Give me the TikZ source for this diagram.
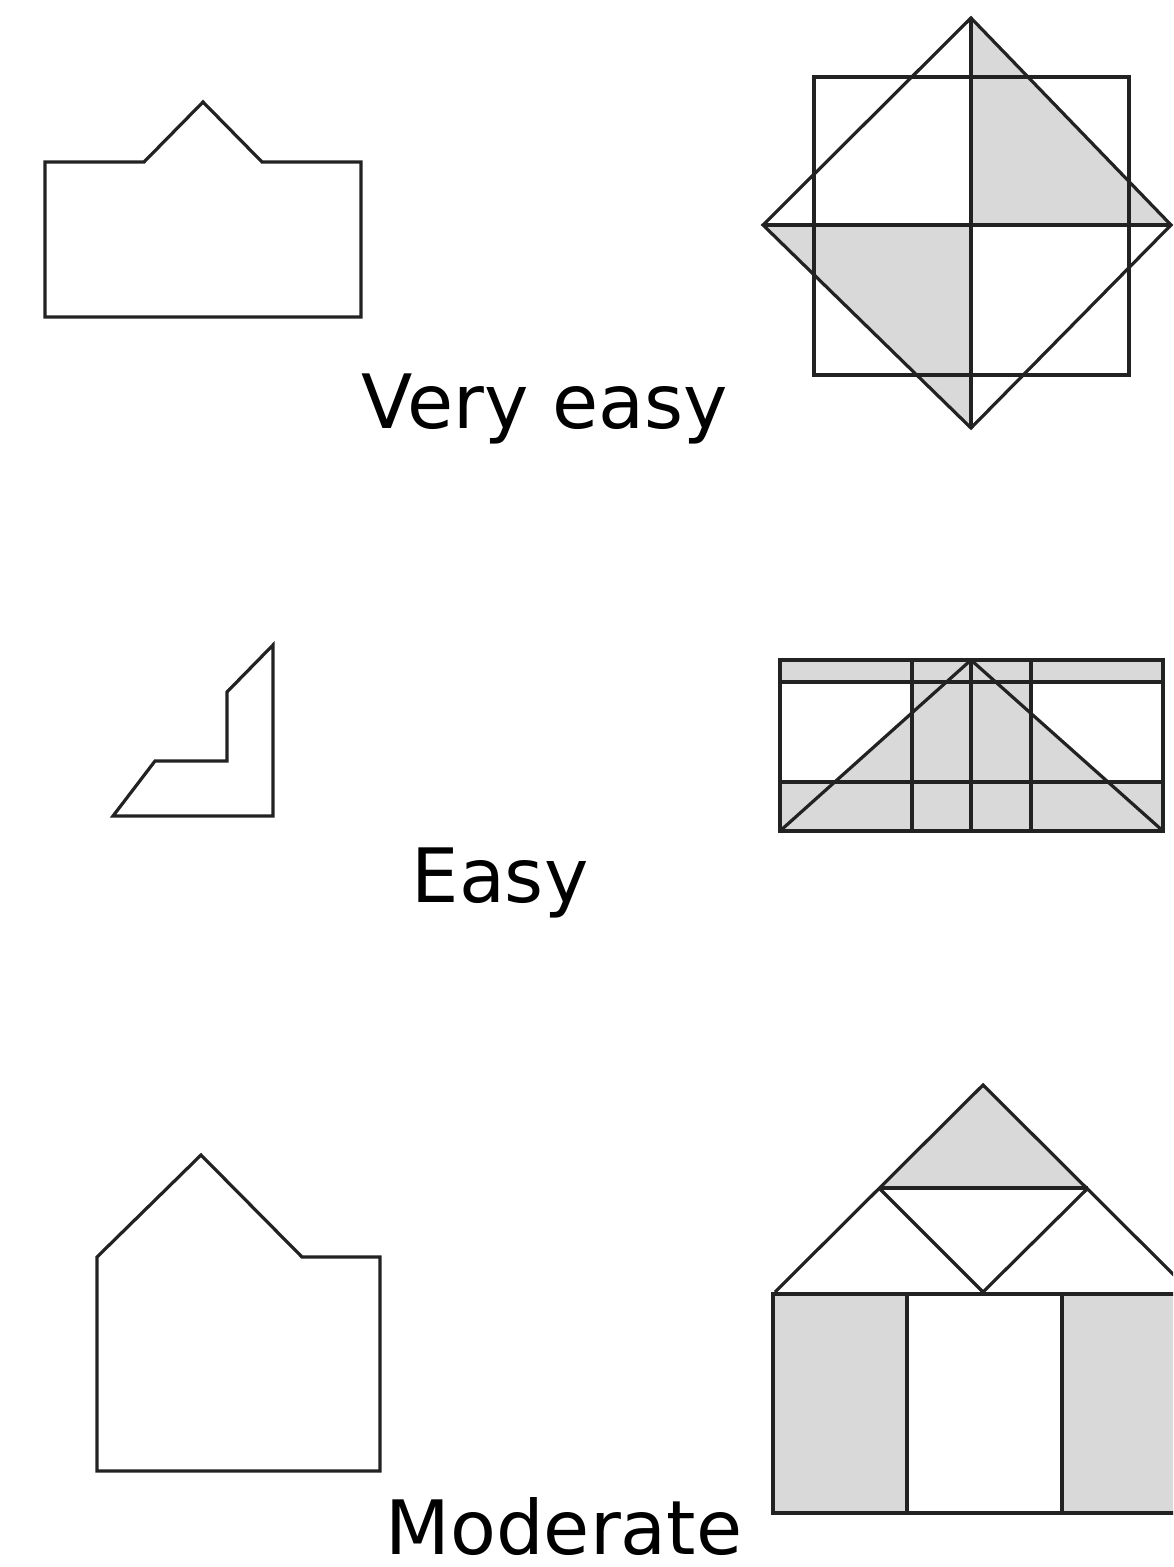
\documentclass[tikz,border=0pt]{standalone}
\usepackage{fontspec}
\setmainfont{DejaVu Sans}
\usepackage{tikz}
\definecolor{boxgrey}{HTML}{D9D9D9}
\definecolor{ink}{HTML}{222222}
\tikzset{fig/.style={line width=1.6pt,draw=ink,line join=miter},
  lbl/.style={anchor=base,inner sep=0pt,font=\fontsize{37.5}{45}\selectfont}}

\begin{document}
\begin{tikzpicture}[x=0.5pt,y=-0.5pt]
    \clip (0,0) rectangle (1173,1567);
    \draw[fig] (45,162) -- (144,162) -- (203,102) -- (262,162) -- (361,162)
        -- (361,317) -- (45,317) -- cycle;
    \fill[boxgrey] (971,18) -- (971,225) -- (1171,225) -- cycle;
    \fill[boxgrey] (763,225) -- (971,225) -- (971,428) -- cycle;
    \draw[fig] (814,77) rectangle (1129,375);
    \draw[fig] (971,18) -- (1171,225) -- (971,428) -- (763,225) -- cycle;
    \draw[fig] (763,225) -- (1171,225) (971,18) -- (971,428);
    \node[lbl] (veryeasy) at (545,428) {Very easy};

    \draw[fig] (273,645) -- (273,816) -- (113,816) -- (155,761) -- (227,761)
        -- (227,692) -- cycle;
    \fill[boxgrey] (780,660) rectangle (1163,831);
    \fill[white] (780,682) rectangle (1163,782);
    \fill[boxgrey] (971,660) -- (1163,831) -- (780,831) -- cycle;
    \fill[boxgrey] (912,660) rectangle (1031,831);
    \draw[fig] (780,660) rectangle (1163,831);
    \draw[fig] (780,682) -- (1163,682) (780,782) -- (1163,782);
    \foreach \x in {912,971,1031}
        \draw[fig] (\x,660) -- (\x,831);
    \draw[fig] (780,831) -- (971,660) -- (1163,831);
    \node[lbl] (easy) at (500,902) {Easy};

    \draw[fig] (97,1257) -- (201,1155) -- (302,1257) -- (380,1257) -- (380,1471)
        -- (97,1471) -- cycle;
    \fill[boxgrey] (983,1085) -- (1088,1188) -- (879,1188) -- cycle;
    \fill[boxgrey] (773,1294) rectangle (907,1513);
    \fill[boxgrey] (1062,1294) rectangle (1196,1513);
    \draw[fig] (775,1292) -- (983,1085) -- (1191,1292);
    \draw[fig] (879,1188) -- (1088,1188);
    \draw[fig] (879,1188) -- (983,1292) -- (1088,1188);
    \draw[fig] (773,1294) rectangle (1196,1513);
    \foreach \x in {907,1062}
        \draw[fig] (\x,1294) -- (\x,1513);
    \node[lbl] (moderate) at (564,1554) {Moderate};
\end{tikzpicture}
\end{document}
